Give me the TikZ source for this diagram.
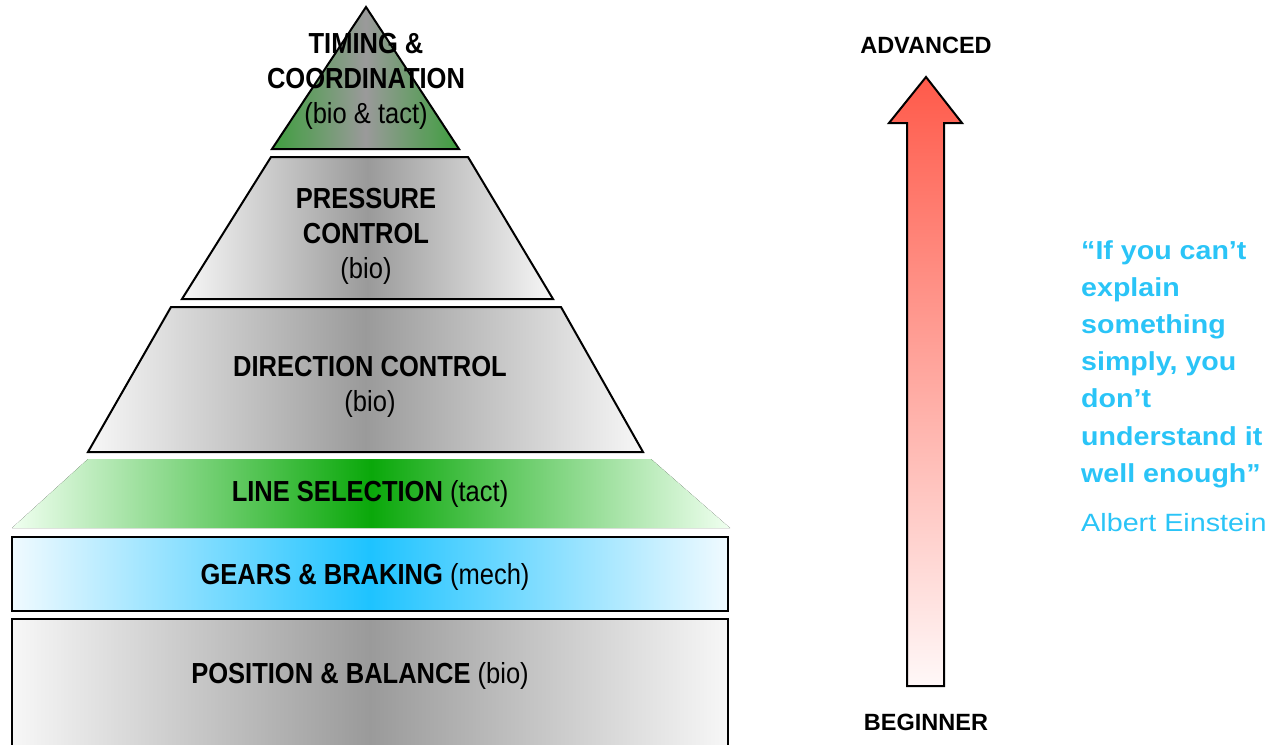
\documentclass[tikz,border=0pt]{standalone}
\usepackage{fontspec}
\setmainfont{Liberation Sans}
\newfontfamily\levelfont[FakeStretch=0.88]{Liberation Sans}
\newfontfamily\quotefont[FakeStretch=1.1]{Liberation Sans}
\newfontfamily\authorfont[FakeStretch=1.15]{Liberation Sans}
\usetikzlibrary{positioning}

\definecolor{steelgray}{HTML}{9A9A9A}
\definecolor{palegray}{HTML}{F7F7F7}
\definecolor{skyblue}{HTML}{1EC3FF}
\definecolor{paleblue}{HTML}{F0FAFF}
\definecolor{grassgreen}{HTML}{0AA80A}
\definecolor{leafgreen}{HTML}{3E9E3E}
\definecolor{quoteblue}{HTML}{2AC4F7}
\definecolor{hotred}{HTML}{FF5A4A}
\definecolor{blushred}{HTML}{FFF8F8}

\newcommand{\src}[1]{{\mdseries(#1)}}

\begin{document}
\begin{tikzpicture}[x=1pt,y=-1pt,
    level/.style={draw=black, line width=2pt, line join=miter,
      left color=palegray, right color=palegray, middle color=steelgray},
    lbl/.style={font=\levelfont\bfseries\fontsize{29}{35}\selectfont,
      align=center, inner sep=0pt},
    rank/.style={font=\bfseries\fontsize{23.5}{28}\selectfont, inner sep=0pt},
    quote/.style={font=\quotefont\bfseries\fontsize{26}{37.2}\selectfont,
      text=quoteblue, align=left, inner sep=0pt},
    author/.style={font=\authorfont\fontsize{25}{30}\selectfont,
      text=quoteblue, inner sep=0pt}]
    \useasboundingbox (0,0) rectangle (1281,744);
    % pyramid
    \begin{scope}
    \clip (0,0) rectangle (1281,744);
    \draw [level] (12,619) rectangle (728,760);
    \end{scope}
    \draw [level, left color=paleblue, right color=paleblue, middle color=skyblue]
      (12,537) rectangle (728,611);
    \fill [left color=green!6, right color=green!6, middle color=grassgreen]
      (88,459) -- (651,459) -- (730,528) -- (12,528) -- cycle;
    \draw [level] (171,307) -- (561,307) -- (643,452) -- (88,452) -- cycle;
    \draw [level] (271,157) -- (468,157) -- (553,299) -- (182,299) -- cycle;
    \draw [level, left color=leafgreen, right color=leafgreen, middle color=steelgray]
      (366,7) -- (459,149) -- (272,149) -- cycle;
    % labels
    \node [lbl] (timing) at (366,81) {TIMING \&\\COORDINATION\\\src{bio \& tact}};
    \node [lbl] (pressure) at (366,236) {PRESSURE\\CONTROL\\\src{bio}};
    \node [lbl] (direction) at (370,387) {DIRECTION CONTROL\\\src{bio}};
    \node [lbl] (line) at (370,494) {LINE SELECTION \src{tact}};
    \node [lbl] (gears) at (365,577) {GEARS \& BRAKING \src{mech}};
    \node [lbl] (position) at (360,676) {POSITION \& BALANCE \src{bio}};
    % progress arrow
    \draw [line width=2pt, line join=miter, top color=hotred, bottom color=blushred]
      (907,686) -- (907,123) -- (889,123) -- (926,77) -- (962,123)
      -- (944,123) -- (944,686) -- cycle;
    \node [rank] (advanced) at (926,45) {ADVANCED};
    \node [rank] (beginner) at (926,722) {BEGINNER};
    % quote
    \node [quote, anchor=north west] (quote) at (1081,240)
      {“If you can’t\\explain\\something\\simply, you\\don’t\\understand it\\well enough”};
    \node [author, anchor=base west] (einstein) at (1081,531) {Albert Einstein};
\end{tikzpicture}
\end{document}
